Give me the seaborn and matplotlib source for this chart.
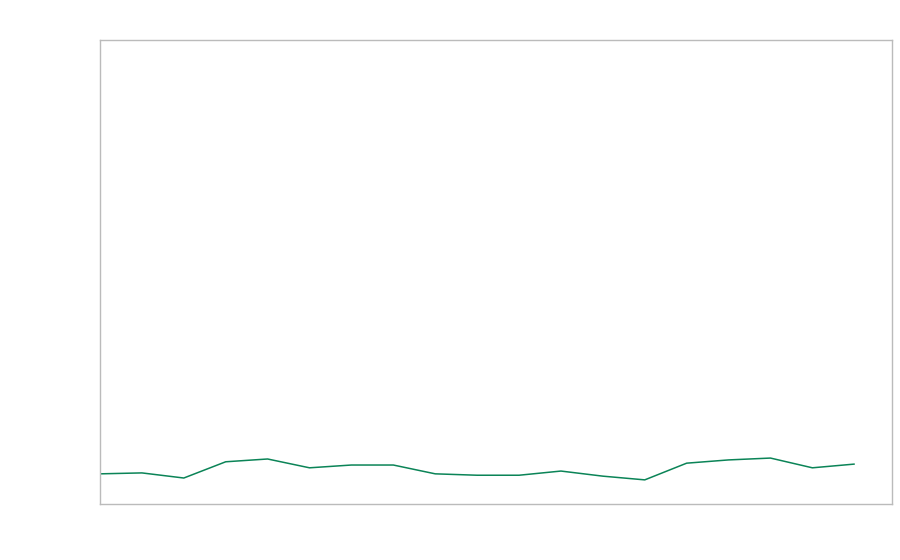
import numpy as np
import pandas as pd
import matplotlib
matplotlib.use("Agg")
import matplotlib.pyplot as plt
import seaborn as sns

# Values (axis runs 0-100, no labels shown)
steps = list(range(19))
values = [6.5, 6.7, 5.6, 9.1, 9.7, 7.8, 8.4, 8.4, 6.5, 6.2,
          6.2, 7.1, 6.0, 5.2, 8.8, 9.5, 9.9, 7.8, 8.6]

sns.set_style("white")

df = pd.DataFrame({"step": steps, "value": values})

fig = plt.figure(figsize=(9, 5.6), dpi=100)
ax = fig.add_axes([100 / 900, 56 / 560, 792 / 900, 464 / 560])

sns.lineplot(data=df, x="step", y="value", ax=ax, color="#0b8457", linewidth=1.1)

ax.set_xlim(0, 18.9)
ax.set_ylim(0, 100)
ax.set_xticks([])
ax.set_yticks([])
ax.set_xlabel("")
ax.set_ylabel("")
for spine in ax.spines.values():
    spine.set_color("#bbbbbb")
    spine.set_linewidth(1)

fig.savefig("out.png", dpi=100)
plt.close(fig)
